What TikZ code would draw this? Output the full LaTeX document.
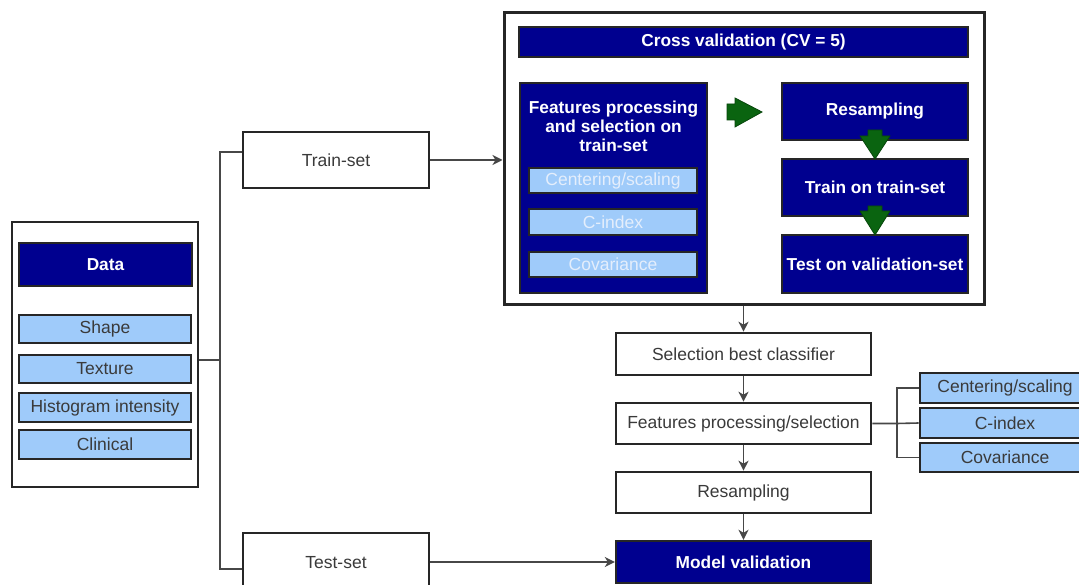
\documentclass[tikz,border=0pt]{standalone}
\usepackage{fontspec}
\setmainfont{Liberation Sans}
\usetikzlibrary{arrows.meta}
\definecolor{navy}{HTML}{00008F}
\definecolor{lblue}{HTML}{9FCBFA}
\definecolor{txt}{HTML}{3A3A3A}
\definecolor{gfill}{HTML}{0A6410}
\definecolor{bord}{HTML}{262626}
\definecolor{fadetxt}{HTML}{E4EEFC}
\begin{document}
\begin{tikzpicture}[x=1pt,y=-1pt,
  nfont/.style={font=\fontsize{17.5}{21}\selectfont},
  bfont/.style={font=\bfseries\fontsize{17.3}{19}\selectfont},
  wbox/.style={draw=bord,line width=2.6pt,fill=white,text=txt,nfont,inner sep=0pt},
  nbox/.style={draw=bord,line width=2.4pt,fill=navy,text=white,bfont,inner sep=0pt},
  lbox/.style={draw=bord,line width=2.6pt,fill=lblue,text=txt,nfont,inner sep=0pt},
  lboxw/.style={lbox,text=fadetxt},
  conn/.style={draw=bord!85,line width=1.6pt},
  arr/.style={conn,-{Stealth[length=10pt,width=10pt,inset=3pt]}},
  garrow/.style={fill=gfill,draw=gfill!70!black,line width=0.8pt,line join=miter}
]
\clip (0,0) rectangle (1079,585);
\fill[white] (0,0) rectangle (1079,585);

% Cross validation block
\node[wbox,line width=3pt,minimum width=480,minimum height=292] (cv) at (744,159) {};
\node[nbox,minimum width=449,minimum height=30] (cvt) at (743.5,42) {Cross validation (CV = 5)};
\node[nbox,minimum width=187,minimum height=210] (fps) at (613.5,188) {};
\node[bfont,text=white,align=center,inner sep=0pt] (fpst) at (613.5,126) {Features processing\\and selection on\\train-set};
\node[lboxw,minimum width=168,minimum height=25] (cs1) at (613,180.5) {Centering/scaling};
\node[lboxw,minimum width=168,minimum height=26] (ci1) at (613,222) {C-index};
\node[lboxw,minimum width=168,minimum height=25] (cov1) at (613,264.5) {Covariance};
\node[nbox,minimum width=186,minimum height=57] (rs1) at (875,111.5) {Resampling};
\node[nbox,minimum width=186,minimum height=57] (trn) at (875,187.5) {Train on train-set};
\node[nbox,minimum width=186,minimum height=58] (tst) at (875,264) {Test on validation-set};

% green block arrows
\filldraw[garrow] (727,104) -- (735,104) -- (735,98) -- (762,112) -- (735,127) -- (735,120) -- (727,120) -- cycle;
\filldraw[garrow] (868,130) -- (882,130) -- (882,136) -- (890,136) -- (875,159) -- (860,136) -- (868,136) -- cycle;
\filldraw[garrow] (868,206) -- (882,206) -- (882,211) -- (890,211) -- (875,235) -- (860,211) -- (868,211) -- cycle;

% Data block
\node[wbox,minimum width=186,minimum height=265] (dat) at (105,354.5) {};
\node[nbox,minimum width=173,minimum height=43] (datt) at (105.5,264.5) {Data};
\node[lbox,minimum width=172,minimum height=28] (shp) at (105,329) {Shape};
\node[lbox,minimum width=172,minimum height=28] (txr) at (105,369) {Texture};
\node[lbox,minimum width=172,minimum height=29] (his) at (105,407.5) {Histogram intensity};
\node[lbox,minimum width=172,minimum height=29] (cli) at (105,444.5) {Clinical};

% train / test split
\node[wbox,minimum width=186,minimum height=56] (trs) at (336,160) {Train-set};
\node[wbox,minimum width=186,minimum height=60] (tes) at (336,563) {};
\node[nfont,text=txt] (test) at (336,563) {Test-set};

% bottom chain
\node[wbox,minimum width=255,minimum height=42] (sel) at (743.5,354) {Selection best classifier};
\node[wbox,minimum width=255,minimum height=41] (fp) at (743.5,423.5) {Features processing/selection};
\node[wbox,minimum width=255,minimum height=41] (rs2) at (743.5,492.5) {Resampling};
\node[nbox,minimum width=255,minimum height=42] (mv) at (743.5,562) {Model validation};

% right list
\node[lbox,minimum width=170,minimum height=30] (rcs) at (1005,388) {Centering/scaling};
\node[lbox,minimum width=170,minimum height=30] (rci) at (1005,423) {C-index};
\node[lbox,minimum width=170,minimum height=29] (rcv) at (1005,457.5) {Covariance};

% connectors
\coordinate (j1) at (220,360);
\coordinate (jt) at (220,152);
\coordinate (jb) at (220,569);
\draw[conn] (dat.east |- j1) -- (j1);
\draw[conn] (trs.west |- jt) -- (jt) -- (jb) -- (tes.west |- jb);
\draw[arr] (trs.east) -- (cv.west |- trs.east);
\draw[arr] (tes.east |- mv.west) -- (mv.west);
\draw[arr] (cv.south -| sel.north) -- (sel.north);
\draw[arr] (sel.south) -- (fp.north);
\draw[arr] (fp.south) -- (rs2.north);
\draw[arr] (rs2.south) -- (mv.north);
\coordinate (k) at (897,423.5);
\draw[conn] (fp.east) -- (k) -- (rci.west);
\draw[conn] (rcs.west) -| (k) |- (rcv.west);
\end{tikzpicture}
\end{document}
